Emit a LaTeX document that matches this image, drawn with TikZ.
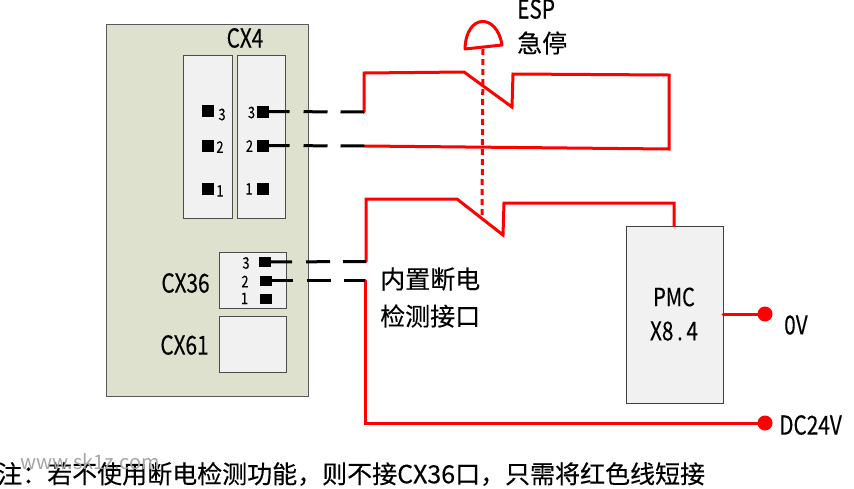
\documentclass[tikz,border=0pt]{standalone}
\usepackage{fontspec}
\setmainfont[FakeBold=0.25]{Noto Sans CJK SC}
\newfontfamily\cond[FakeStretch=0.8,FakeBold=0.25]{Noto Sans CJK SC}
\newfontfamily\plain{Noto Sans CJK SC}
\newcommand{\fsz}[1]{\fontsize{#1}{#1}\selectfont}
\newcommand{\mdot}{\makebox[13pt][c]{.}}
\tikzset{
  x=1pt,y=-1pt,
  board/.style={draw=black!65,line width=1.3pt,fill=boardc},
  slot/.style={draw=black!70,line width=1pt,fill=slotc},
  pmcbox/.style={draw=black!75,line width=1pt,fill=slotc},
  pin/.style={fill=black,inner sep=0,minimum size=12pt},
  pinb/.style={fill=black,inner sep=0,minimum width=12pt,minimum height=10pt},
  num/.style={font=\cond\fsz{16},inner sep=0},
  lab/.style={font=\cond\fsz{26},inner sep=0},
  cjk/.style={font=\fsz{25},inner sep=0},
  wire/.style={draw=wirec,line width=3pt,line join=miter,line cap=round},
  stub/.style={draw=black,line width=3pt,dash pattern=on 27pt off 14pt on 24pt off 13pt on 24pt off 50pt},
  term/.style={circle,fill=wirec,inner sep=0,minimum size=15pt},
  link/.style={draw=wirec,line width=3pt,dash pattern=on 6pt off 4pt},
}
\definecolor{boardc}{HTML}{DDE1CD}
\definecolor{slotc}{HTML}{F1F1F1}
\definecolor{wirec}{HTML}{FF0000}
\begin{document}
\begin{tikzpicture}
\useasboundingbox (0,0) rectangle (854,488);
\fill[white] (0,0) rectangle (854,488);
% board
\node[board,anchor=north west,minimum width=202pt,minimum height=372pt,inner sep=0] (brd) at (106,24) {};
\node[slot,anchor=north west,minimum width=49pt,minimum height=163pt,inner sep=0] (s1) at (183,55) {};
\node[slot,anchor=north west,minimum width=48pt,minimum height=163pt,inner sep=0] (s2) at (237,55) {};
\node[slot,anchor=north west,minimum width=67pt,minimum height=56pt,inner sep=0] (s3) at (219,252) {};
\node[slot,anchor=north west,minimum width=67pt,minimum height=56pt,inner sep=0] (s4) at (219,316) {};
\node[lab] (cx4) at (245,38) {CX4};
\node[lab] (cx36) at (185.5,283) {CX36};
\node[lab] (cx61) at (184.5,345) {CX61};
% pins CX4
\node[pin] (l3) at (207.5,111) {};
\node[pin] (l2) at (207.5,145.5) {};
\node[pin] (l1) at (207.5,188.5) {};
\node[pin] (r3) at (262.5,111.5) {};
\node[pin] (r2) at (262.5,145.5) {};
\node[pin] (r1) at (262.5,188.5) {};
\node[num] at (222,114.5) {3};
\node[num] at (220,147) {2};
\node[num] at (220,191) {1};
\node[num] at (251.5,112.5) {3};
\node[num] at (249.5,146) {2};
\node[num] at (249,189) {1};
% pins CX36
\node[pinb] (c3) at (265,262) {};
\node[pinb] (c2) at (265.5,280.5) {};
\node[pinb] (c1) at (265.5,298.5) {};
\node[num] at (246,263) {3};
\node[num] at (245,281.5) {2};
\node[num] at (244.5,298.5) {1};
% wire junctions
\coordinate (a3) at (364,112);
\coordinate (a2) at (365,146);
\coordinate (b3) at (366,261.5);
\coordinate (b2) at (365,280.5);
% red wires
\draw[wire] (a3) -- (364,73) -- (464,72) -- (512,107) -- (513,74) -- (669,75) -- (669,149) -- (a2);
\node[pmcbox,anchor=north west,minimum width=97pt,minimum height=177pt,inner sep=0] (pmc) at (626,226) {};
\draw[wire] (b3) -- (366,199) -- (457,199) -- (503,235) -- (504,203) -- (674,203) -- (674,226);
\node[term] (dc) at (765,423) {};
\node[term] (ov) at (765,314) {};
\draw[wire] (b2) -- (365,423) -- (dc.center);
\draw[wire] (723,314) -- (ov.center);
% black stubs
\draw[stub] (r3.center) -- (a3);
\draw[stub] (r2.center) -- (a2);
\draw[stub] (c3.center) -- (b3);
\draw[stub] (c2.center) -- (b2);
% ESP button
\coordinate (btnl) at (465,49);
\coordinate (btnr) at (502,45);
\draw[wire,line join=round] (btnl) .. controls (466,13) and (497,13) .. (btnr) -- cycle;
\coordinate (btnb) at (483,49);
\coordinate (sw) at (482,218);
\draw[link] (btnb) -- (sw);
% labels
\node[lab,anchor=west] (esp) at (517,9) {ESP};
\node[cjk,anchor=west] (jt) at (517,43) {急停};
\node[cjk,anchor=west] (t1) at (380,279) {内置断电};
\node[cjk,anchor=west] (t2) at (380,316) {检测接口};
\node[font=\cond\fsz{25},inner sep=0] (p1) at (674,297) {PMC};
\node[lab] (p2) at (674,331) {X8\mdot4};
\node[lab,anchor=west] (v0) at (784,325) {0V};
\node[lab,anchor=west] (v24) at (779,425) {DC24V};
\node[cjk,anchor=west] (note) at (-3,474) {注^^^^ff1a若不使用断电检测功能^^^^ff0c则不接CX36口^^^^ff0c只需将红色线短接};
\node[font=\plain\fsz{20},text=black!35,anchor=west,inner sep=0] (wm) at (20,462) {www.sk1z.com};
\end{tikzpicture}
\end{document}
